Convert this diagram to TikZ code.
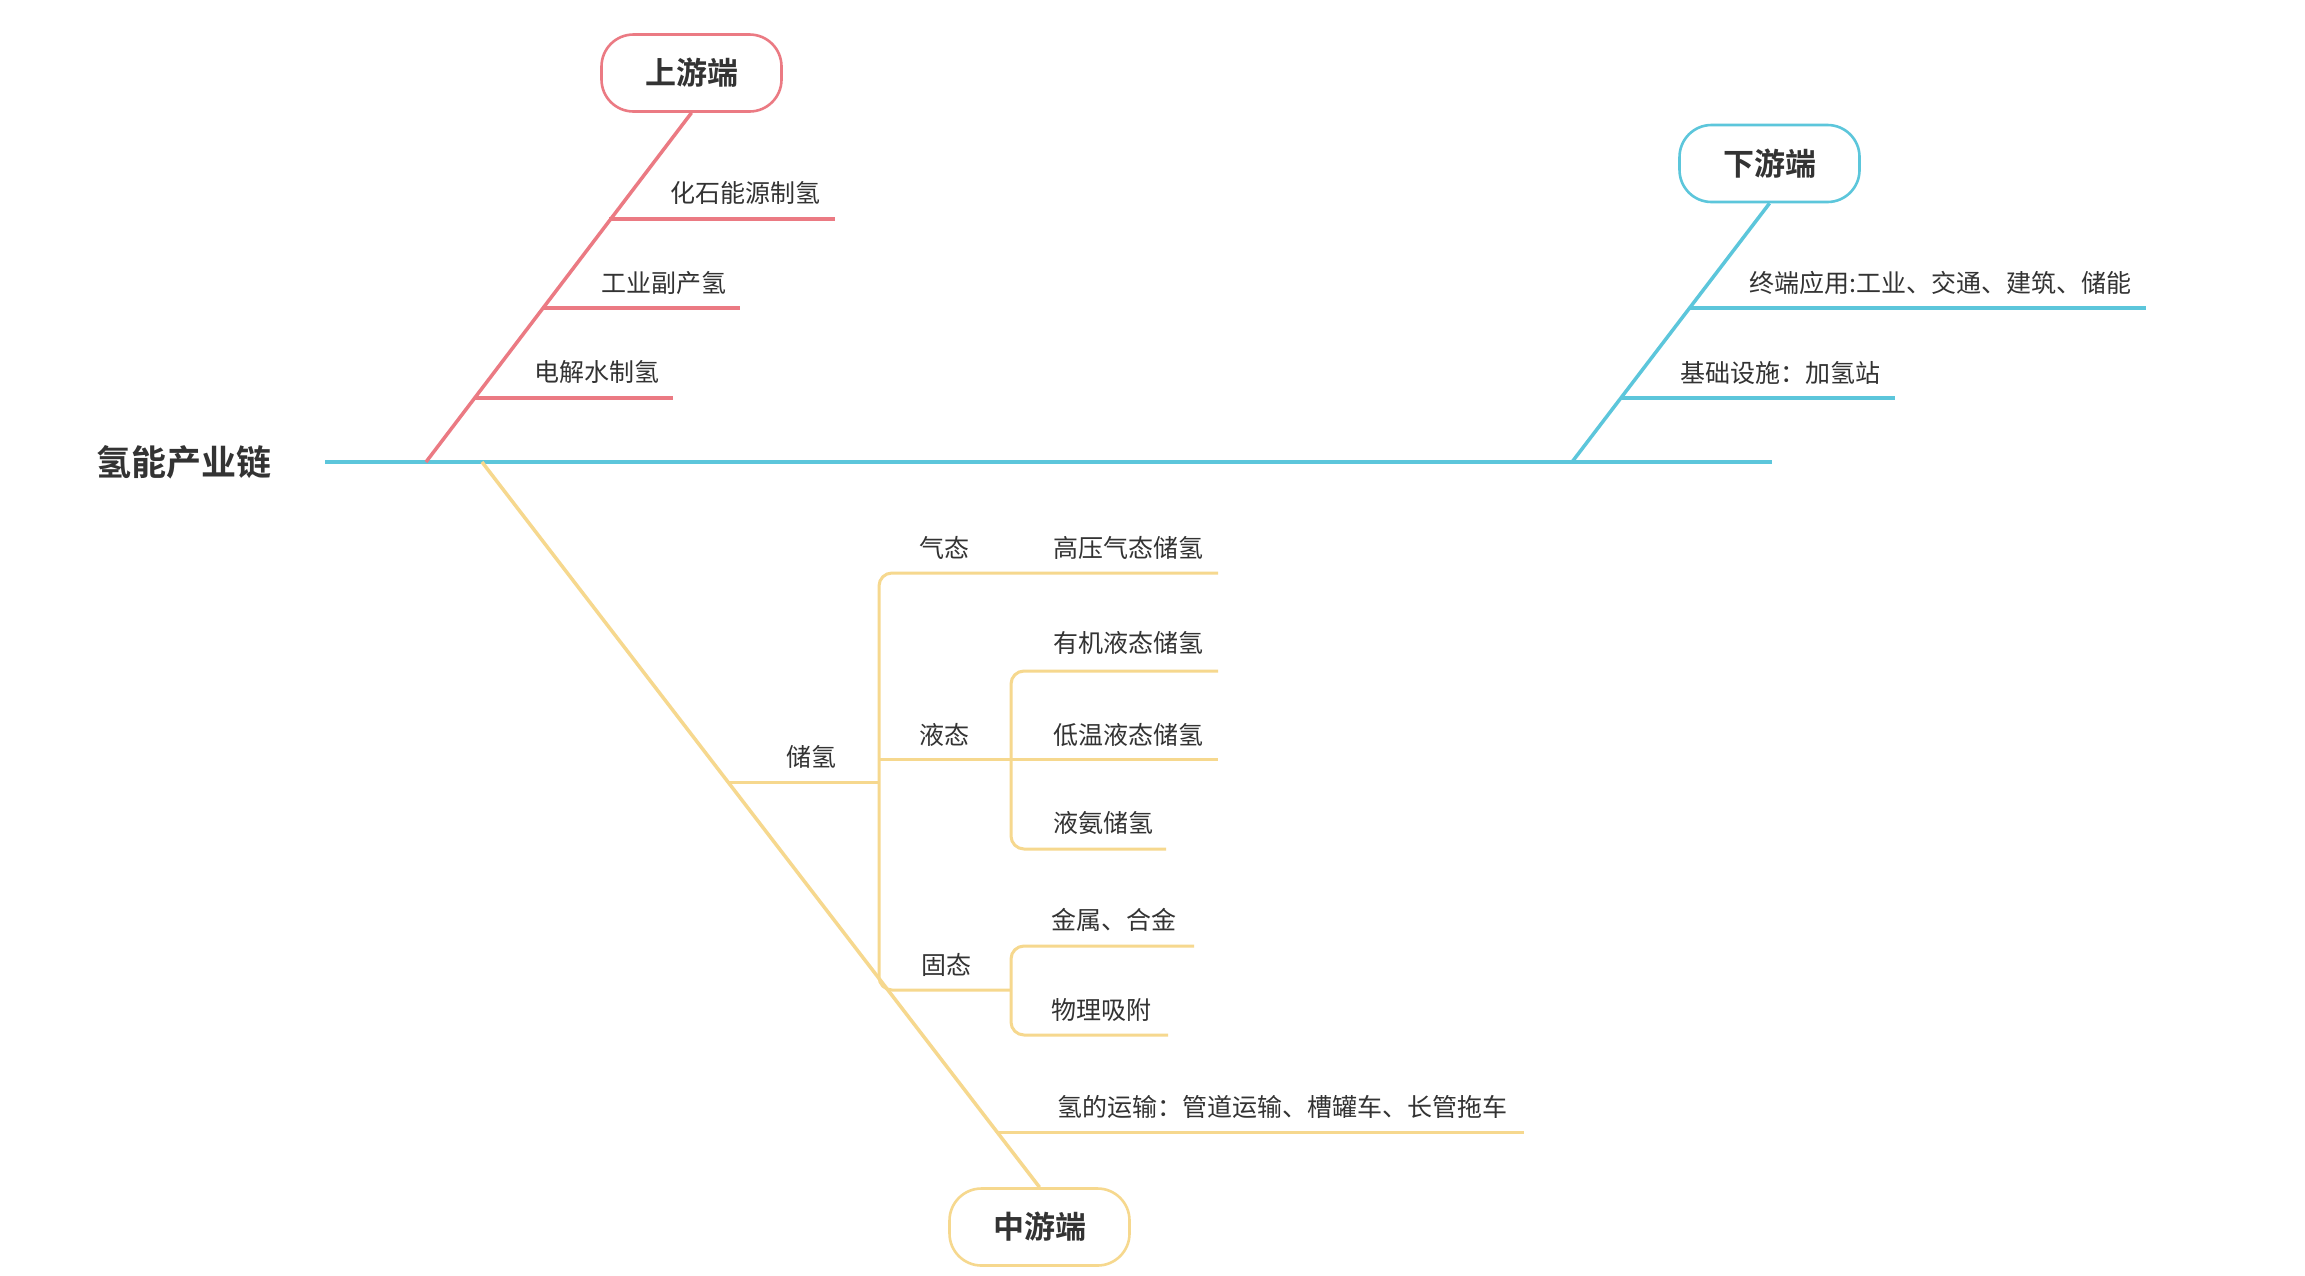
\documentclass[tikz,border=0pt]{standalone}
\usepackage{fontspec}
\setmainfont{Noto Sans CJK SC}[BoldFont={Noto Sans CJK SC Bold}]
\definecolor{cred}{HTML}{EB7A83}
\definecolor{cblue}{HTML}{5CC6DB}
\definecolor{cyel}{HTML}{F6D88E}
\definecolor{ctext}{HTML}{333333}
\begin{document}
\begin{tikzpicture}[x=0.5pt,y=-0.5pt,
  lbl/.style={anchor=west, inner sep=0pt, text=ctext, font=\fontsize{12.5pt}{14pt}\selectfont},
  endbox/.style={draw=#1, line width=1.3pt, rounded corners=16pt, fill=white, minimum width=90pt, minimum height=38.5pt, inner sep=0pt, text=ctext, font=\fontsize{15.5pt}{18pt}\selectfont\bfseries},
  rootlbl/.style={inner sep=0pt, text=ctext, font=\fontsize{17.5pt}{20pt}\selectfont\bfseries},
  redline/.style={draw=cred, line width=1.6pt},
  blueline/.style={draw=cblue, line width=1.6pt},
  yelline/.style={draw=cyel, line width=1.5pt, rounded corners=6.5pt},
]
\fill[white] (0,0) rectangle (2305,1275);
\useasboundingbox (0,0) rectangle (2305,1275);

% end boxes and root
\node[endbox=cred] (up) at (691.5,73) {上游端};
\node[endbox=cblue] (down) at (1769.5,163.5) {下游端};
\node[endbox=cyel] (mid) at (1039.5,1227) {中游端};
\node[rootlbl] (root) at (183.5,462) {氢能产业链};

% main axis
\coordinate (m0) at (325,462);
\coordinate (m1) at (1772,462);
\draw[cblue, line width=2pt] (m0) -- (m1);

% upstream (red)
\coordinate (rb) at (426,462);
\draw[cred, line width=1.75pt] (rb) -- (up.south);
\coordinate (r1) at (609,219);  \coordinate (r1e) at (835,219);
\coordinate (r2) at (542,308);  \coordinate (r2e) at (740,308);
\coordinate (r3) at (474,398);  \coordinate (r3e) at (673,398);
\draw[redline] (r1) -- (r1e);
\draw[redline] (r2) -- (r2e);
\draw[redline] (r3) -- (r3e);
\node[lbl] (tr1) at (670,193) {化石能源制氢};
\node[lbl] (tr2) at (601,283) {工业副产氢};
\node[lbl] (tr3) at (534,372) {电解水制氢};

% downstream (blue)
\coordinate (bb) at (1572,462);
\draw[cblue, line width=1.75pt] (bb) -- (down.south);
\coordinate (b1) at (1689,308);  \coordinate (b1e) at (2146,308);
\coordinate (b2) at (1621,398);  \coordinate (b2e) at (1895,398);
\draw[blueline] (b1) -- (b1e);
\draw[blueline] (b2) -- (b2e);
\node[lbl] (tb1) at (1749,283) {终端应用:工业、交通、建筑、储能};
\node[lbl] (tb2) at (1680,373) {基础设施：加氢站};

% midstream (yellow)
\coordinate (yb) at (482,462);
\draw[cyel, line width=1.75pt] (yb) -- (mid.north);
\coordinate (y1) at (728,782);
\coordinate (y2) at (996,1132);  \coordinate (y2e) at (1524,1132);
\coordinate (k0) at (879,782);
\coordinate (gas) at (1218,573);
\coordinate (liq0) at (879,759);  \coordinate (liqe) at (1218,759);
\coordinate (sol) at (1011,990);
\coordinate (l1) at (1218,671);   \coordinate (l3) at (1166,849);
\coordinate (s1) at (1194,946);   \coordinate (s2) at (1168,1035);
\draw[yelline] (y1) -- (k0);
\draw[yelline] (gas) -| (879,990) -- (sol);
\draw[yelline] (liq0) -- (liqe);
\draw[yelline] (l1) -| (1011,849) -- (l3);
\draw[yelline] (s1) -| (1011,1035) -- (s2);
\draw[yelline] (y2) -- (y2e);

\node[lbl, anchor=center] (ty1) at (811,757) {储氢};
\node[lbl] (tg) at (919,548) {气态};
\node[lbl] (tg1) at (1053,548) {高压气态储氢};
\node[lbl] (tl) at (919,735) {液态};
\node[lbl] (tl1) at (1053,643) {有机液态储氢};
\node[lbl] (tl2) at (1053,735) {低温液态储氢};
\node[lbl] (tl3) at (1053,823) {液氨储氢};
\node[lbl] (ts) at (921,965) {固态};
\node[lbl] (ts1) at (1051,920) {金属、合金};
\node[lbl] (ts2) at (1051,1010) {物理吸附};
\node[lbl] (ty2) at (1057,1107) {氢的运输：管道运输、槽罐车、长管拖车};
\end{tikzpicture}
\end{document}
